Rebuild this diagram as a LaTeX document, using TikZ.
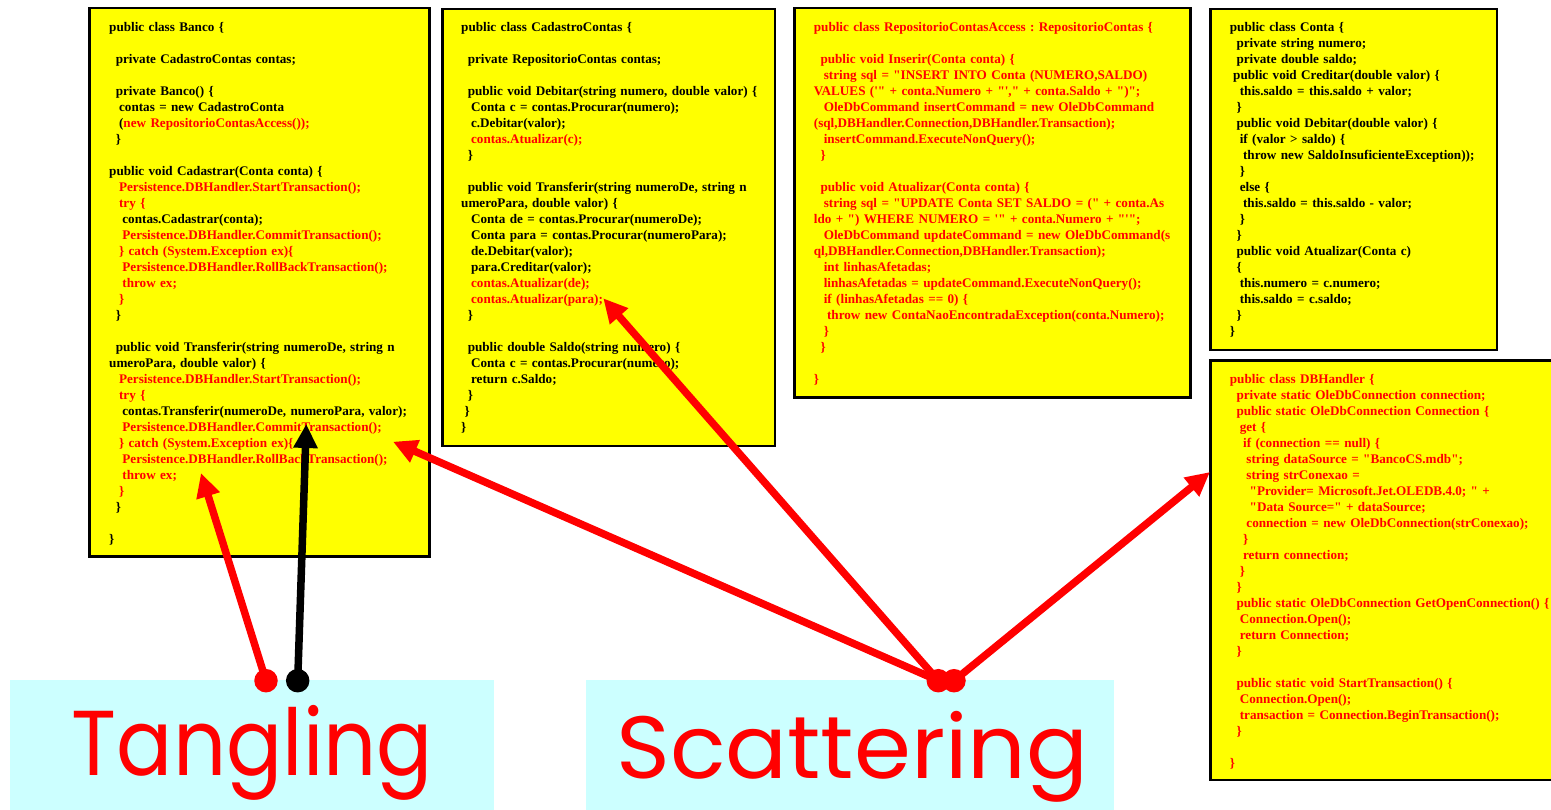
\documentclass[tikz,border=0pt]{standalone}
\usepackage{fontspec}
\usepackage{graphicx}
\usetikzlibrary{arrows.meta}

\newfontfamily\codefamily{Liberation Serif}
\newfontfamily\labelfamily{Poppins}

\definecolor{boxyellow}{HTML}{FFFF00}
\definecolor{labelcyan}{HTML}{CCFFFF}
\definecolor{hotred}{HTML}{FF0000}

% one space of the code font, used for indentation
\newdimen\spw \spw=3.3pt
\newcommand\codeln[2]{\noindent\hspace*{#1\spw}\strut{#2}\par}
\newcommand\codelnr[2]{\noindent\hspace*{#1\spw}\strut{\color{hotred}#2}\par}
\newcommand\codegap{\noindent\strut\par}

\tikzset{
  codebox/.style={draw=black, line width=2.6pt, fill=boxyellow, anchor=north west,
                  inner sep=0pt, outer sep=0pt},
  codetext/.style={anchor=north west, inner sep=0pt, text width=430pt, align=left,
                   font=\codefamily\bfseries\fontsize{13.15}{16}\selectfont\frenchspacing},
  labelbox/.style={fill=labelcyan, anchor=north west, inner sep=0pt, outer sep=0pt},
  labeltext/.style={anchor=north west, inner sep=0pt, text=hotred},
  hitarrow/.style={line width=7.5pt, -{Triangle[length=24pt,width=23pt]}},
  tailball/.style={circle, inner sep=0pt, minimum size=23.5pt}
}

\begin{document}
\begin{tikzpicture}[x=1pt, y=-1pt]
\useasboundingbox (0,0) rectangle (1551,809);
\clip (0,0) rectangle (1551,809);

% ---- code listings ----
\node[codebox, minimum width=340.4pt, minimum height=548.7pt] (banco) at (89.3,8) {};
\node[codebox, minimum width=332.5pt, minimum height=437pt] (cadastro) at (442.5,8.8) {};
\node[codebox, minimum width=396pt, minimum height=389.9pt] (repo) at (794.3,7.8) {};
\node[codebox, minimum width=286.5pt, minimum height=341pt] (conta) at (1210.5,9) {};
\node[codebox, minimum width=349.5pt, minimum height=419.3pt] (dbh) at (1210.5,360.7) {};

\node[codetext] (bancocode) at (109,20.3) {%
\codeln{0}{public class Banco \{}
\codegap
\codeln{2}{private CadastroContas contas;}
\codegap
\codeln{2}{private Banco() \{}
\codeln{3}{contas = new CadastroConta}
\codeln{3}{(\textcolor{hotred}{new RepositorioContasAccess());}}
\codeln{2}{\}}
\codegap
\codeln{0}{public void Cadastrar(Conta conta) \{}
\codelnr{3}{Persistence.DBHandler.StartTransaction();}
\codelnr{3}{try \{}
\codeln{4}{contas.Cadastrar(conta);}
\codelnr{4}{Persistence.DBHandler.CommitTransaction();}
\codelnr{3}{\} catch (System.Exception ex)\{}
\codelnr{4}{Persistence.DBHandler.RollBackTransaction();}
\codelnr{4}{throw ex;}
\codelnr{3}{\}}
\codeln{2}{\}}
\codegap
\codeln{2}{public void Transferir(string numeroDe, string n}
\codeln{0}{umeroPara, double valor) \{}
\codelnr{3}{Persistence.DBHandler.StartTransaction();}
\codelnr{3}{try \{}
\codeln{4}{contas.Transferir(numeroDe, numeroPara, valor);}
\codelnr{4}{Persistence.DBHandler.CommitTransaction();}
\codelnr{3}{\} catch (System.Exception ex)\{}
\codelnr{4}{Persistence.DBHandler.RollBackTransaction();}
\codelnr{4}{throw ex;}
\codelnr{3}{\}}
\codeln{2}{\}}
\codegap
\codeln{0}{\}}};

\node[codetext] (cadastrocode) at (461,20.3) {%
\codeln{0}{public class CadastroContas \{}
\codegap
\codeln{2}{private RepositorioContas contas;}
\codegap
\codeln{2}{public void Debitar(string numero, double valor) \{}
\codeln{3}{Conta c = contas.Procurar(numero);}
\codeln{3}{c.Debitar(valor);}
\codelnr{3}{contas.Atualizar(c);}
\codeln{2}{\}}
\codegap
\codeln{2}{public void Transferir(string numeroDe, string n}
\codeln{0}{umeroPara, double valor) \{}
\codeln{3}{Conta de = contas.Procurar(numeroDe);}
\codeln{3}{Conta para = contas.Procurar(numeroPara);}
\codeln{3}{de.Debitar(valor);}
\codeln{3}{para.Creditar(valor);}
\codelnr{3}{contas.Atualizar(de);}
\codelnr{3}{contas.Atualizar(para);}
\codeln{2}{\}}
\codegap
\codeln{2}{public double Saldo(string numero) \{}
\codeln{3}{Conta c = contas.Procurar(numero);}
\codeln{3}{return c.Saldo;}
\codeln{2}{\}}
\codeln{1}{\}}
\codeln{0}{\}}};

\node[codetext, text=hotred] (repocode) at (813.7,20.3) {%
\codeln{0}{public class RepositorioContasAccess : RepositorioContas \{}
\codegap
\codeln{2}{public void Inserir(Conta conta) \{}
\codeln{3}{string sql = "INSERT INTO Conta (NUMERO,SALDO)}
\codeln{0}{VALUES ('" + conta.Numero + "'," + conta.Saldo + ")";}
\codeln{3}{OleDbCommand insertCommand = new OleDbCommand}
\codeln{0}{(sql,DBHandler.Connection,DBHandler.Transaction);}
\codeln{3}{insertCommand.ExecuteNonQuery();}
\codeln{2}{\}}
\codegap
\codeln{2}{public void Atualizar(Conta conta) \{}
\codeln{3}{string sql = "UPDATE Conta SET SALDO = (" + conta.As}
\codeln{0}{ldo + ") WHERE NUMERO = '" + conta.Numero + "'";}
\codeln{3}{OleDbCommand updateCommand = new OleDbCommand(s}
\codeln{0}{ql,DBHandler.Connection,DBHandler.Transaction);}
\codeln{3}{int linhasAfetadas;}
\codeln{3}{linhasAfetadas = updateCommand.ExecuteNonQuery();}
\codeln{3}{if (linhasAfetadas == 0) \{}
\codeln{4}{throw new ContaNaoEncontradaException(conta.Numero);}
\codeln{3}{\}}
\codeln{2}{\}}
\codegap
\codeln{0}{\}}};

\node[codetext] (contacode) at (1229.7,20.3) {%
\codeln{0}{public class Conta \{}
\codeln{2}{private string numero;}
\codeln{2}{private double saldo;}
\codeln{1}{public void Creditar(double valor) \{}
\codeln{3}{this.saldo = this.saldo + valor;}
\codeln{2}{\}}
\codeln{2}{public void Debitar(double valor) \{}
\codeln{3}{if (valor > saldo) \{}
\codeln{4}{throw new SaldoInsuficienteException));}
\codeln{3}{\}}
\codeln{3}{else \{}
\codeln{4}{this.saldo = this.saldo - valor;}
\codeln{3}{\}}
\codeln{2}{\}}
\codeln{2}{public void Atualizar(Conta c)}
\codeln{2}{\{}
\codeln{3}{this.numero = c.numero;}
\codeln{3}{this.saldo = c.saldo;}
\codeln{2}{\}}
\codeln{0}{\}}};

\node[codetext, text=hotred] (dbhcode) at (1229.7,372.3) {%
\codeln{0}{public class DBHandler \{}
\codeln{2}{private static OleDbConnection connection;}
\codeln{2}{public static OleDbConnection Connection \{}
\codeln{3}{get \{}
\codeln{4}{if (connection == null) \{}
\codeln{5}{string dataSource = "BancoCS.mdb";}
\codeln{5}{string strConexao =}
\codeln{6}{"Provider= Microsoft.Jet.OLEDB.4.0; " +}
\codeln{6}{"Data Source=" + dataSource;}
\codeln{5}{connection = new OleDbConnection(strConexao);}
\codeln{4}{\}}
\codeln{4}{return connection;}
\codeln{3}{\}}
\codeln{2}{\}}
\codeln{2}{public static OleDbConnection GetOpenConnection() \{}
\codeln{3}{Connection.Open();}
\codeln{3}{return Connection;}
\codeln{2}{\}}
\codegap
\codeln{2}{public static void StartTransaction() \{}
\codeln{3}{Connection.Open();}
\codeln{3}{transaction = Connection.BeginTransaction();}
\codeln{2}{\}}
\codegap
\codeln{0}{\}}};

% ---- labels ----
\node[labelbox, minimum width=483.5pt, minimum height=135pt] (tangbox) at (10,680) {};
\node[labelbox, minimum width=528pt, minimum height=135pt] (scatbox) at (586,680) {};
\node[labeltext] (tangling) at (71.7,705) {\resizebox*{361pt}{95pt}{\labelfamily Tangling}};
\node[labeltext] (scattering) at (616,711) {\resizebox*{472pt}{91pt}{\labelfamily Scattering}};

% ---- arrows ----
\coordinate (tipTangRed) at (201,473);
\coordinate (tipTangBlack) at (306.3,424);
\coordinate (tipCommit) at (393,441.7);
\coordinate (tipAtualizar) at (603.3,298.3);
\coordinate (tipHandler) at (1210,472);

\node[tailball, fill=hotred] (tangA) at (266,680.7) {};
\node[tailball, fill=black] (tangB) at (297.7,680.7) {};
\node[tailball, fill=hotred] (scatA) at (938.3,680.7) {};
\node[tailball, fill=hotred] (scatB) at (954,680.7) {};

\draw[hitarrow, draw=hotred, fill=hotred] (tangA.center) -- (tipTangRed);
\draw[hitarrow, draw=black, fill=black] (tangB.center) -- (tipTangBlack);
\draw[hitarrow, draw=hotred, fill=hotred] (scatA.center) -- (tipCommit);
\draw[hitarrow, draw=hotred, fill=hotred] (scatA.center) -- (tipAtualizar);
\draw[hitarrow, draw=hotred, fill=hotred] (scatB.center) -- (tipHandler);
\end{tikzpicture}
\end{document}
